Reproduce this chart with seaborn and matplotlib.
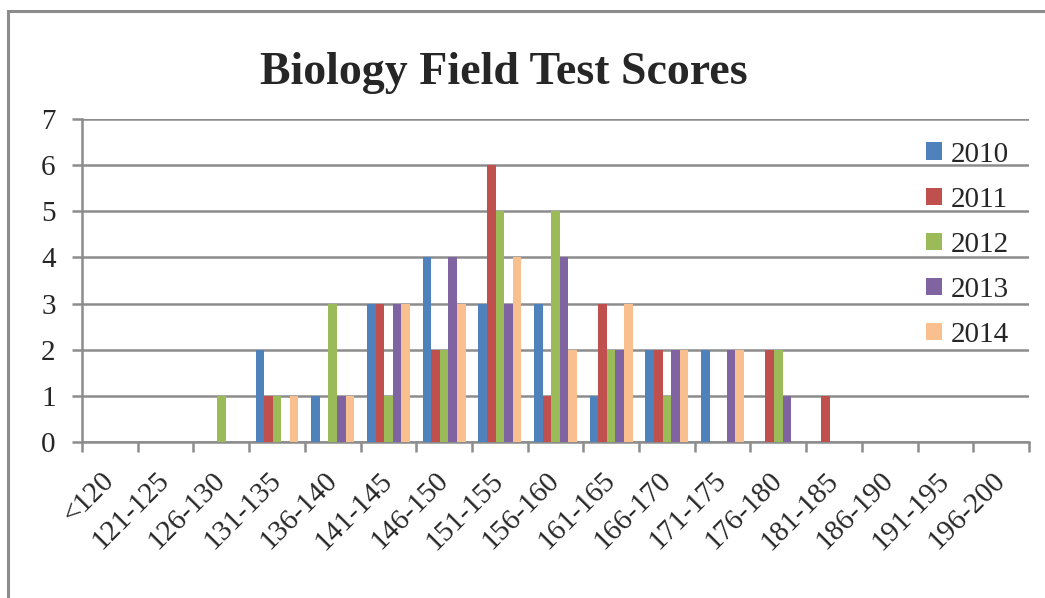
import numpy as np
import pandas as pd
import matplotlib
matplotlib.use("Agg")
import matplotlib.pyplot as plt
import seaborn as sns
from matplotlib.patches import Rectangle


# ==========================================================
# DATA
# ==========================================================

score_bins = ["<120", "121-125", "126-130", "131-135", "136-140", "141-145",
              "146-150", "151-155", "156-160", "161-165", "166-170", "171-175",
              "176-180", "181-185", "186-190", "191-195", "196-200"]

years = ["2010", "2011", "2012", "2013", "2014"]

counts_2010 = [0, 0, 0, 2, 1, 3, 4, 3, 3, 1, 2, 2, 0, 0, 0, 0, 0]
counts_2011 = [0, 0, 0, 1, 0, 3, 2, 6, 1, 3, 2, 0, 2, 1, 0, 0, 0]
counts_2012 = [0, 0, 1, 1, 3, 1, 2, 5, 5, 2, 1, 0, 2, 0, 0, 0, 0]
counts_2013 = [0, 0, 0, 0, 1, 3, 4, 3, 4, 2, 2, 2, 1, 0, 0, 0, 0]
counts_2014 = [0, 0, 0, 1, 1, 3, 3, 4, 2, 3, 2, 2, 0, 0, 0, 0, 0]

y_ticks = [0, 1, 2, 3, 4, 5, 6, 7]

colors = ["#4F81BD", "#C0504D", "#9BBB59", "#8064A2", "#FABF8F"]
GRID = "#8c8c8c"


# ==========================================================
# BUILD LONG TABLE
# ==========================================================

all_counts = [counts_2010, counts_2011, counts_2012, counts_2013, counts_2014]
rows = []
for year, counts in zip(years, all_counts):
    for b, c in zip(score_bins, counts):
        rows.append({"bin": b, "year": year, "count": c})
df = pd.DataFrame(rows)


# ==========================================================
# PLOT
# ==========================================================

sns.set_style("white")
plt.rcParams["font.family"] = ["Liberation Serif", "DejaVu Serif"]

fig = plt.figure(figsize=(10.45, 5.98), dpi=100)
ax = fig.add_axes([82 / 1045, 1 - 442 / 598, (1029 - 82) / 1045, (442 - 119) / 598])

sns.barplot(data=df, x="bin", y="count", hue="year", order=score_bins,
            hue_order=years, palette=colors, width=0.77, saturation=1,
            edgecolor="none", linewidth=0, ax=ax, zorder=3)

ax.set_xlim(-0.5, len(score_bins) - 0.5)
ax.set_ylim(0, 7)
ax.set_yticks(y_ticks)
ax.set_yticklabels([str(v) for v in y_ticks], fontsize=21)

# category boundaries carry the ticks, centres carry the labels
ax.set_xticks(np.arange(len(score_bins) + 1) - 0.5)
ax.set_xticklabels([])
ax.set_xticks(np.arange(len(score_bins)), minor=True)
ax.set_xticklabels(score_bins, minor=True, rotation=45, ha="right",
                   va="center", rotation_mode="anchor", fontsize=21)
ax.tick_params(axis="x", which="minor", length=0, pad=25)
ax.tick_params(axis="x", which="major", length=7, width=1.8, color=GRID,
               direction="out", bottom=True)
ax.tick_params(axis="y", length=7, width=1.8, color=GRID, direction="out",
               left=True, pad=12)

ax.yaxis.grid(True, color=GRID, linewidth=1.8, zorder=0)
ax.set_axisbelow(True)
for side in ["top", "right"]:
    ax.spines[side].set_visible(False)
for side in ["left", "bottom"]:
    ax.spines[side].set_color(GRID)
    ax.spines[side].set_linewidth(1.8)

ax.set_xlabel("")
ax.set_ylabel("")

fig.text(504 / 1045, 1 - 73 / 598, "Biology Field Test Scores", ha="center",
         va="center", fontsize=33, fontweight="bold")

leg = ax.legend(loc="upper left", bbox_to_anchor=(911 / 1045, 1 - 127 / 598),
                bbox_transform=fig.transFigure, frameon=False, fontsize=21,
                handlelength=0.55, handleheight=0.55, handletextpad=0.3,
                labelspacing=0.655, borderpad=0)

# outer chart frame (only left and top edges visible in crop)
fig.patches.append(Rectangle((8 / 1045, -0.2), 1.5, 1.2 - 11 / 598,
                             transform=fig.transFigure, fill=False,
                             edgecolor=GRID, linewidth=2.2))

fig.savefig("out.png", dpi=100)
plt.close()
